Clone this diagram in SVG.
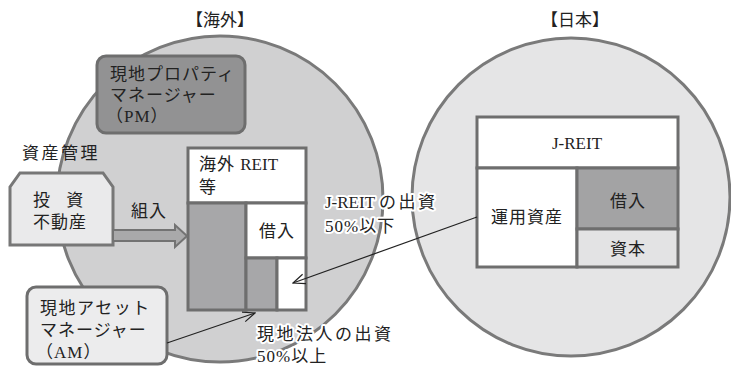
<svg xmlns="http://www.w3.org/2000/svg" width="731" height="370" viewBox="0 0 731 370">
<defs>
<style>
text{font-family:"Liberation Serif","Noto Sans CJK JP",serif;font-size:17px;fill:#222;letter-spacing:1px}
.c{text-anchor:middle}
.w{letter-spacing:2.5px}
.n{letter-spacing:0}
.box{stroke:#6e6e6e;stroke-width:3}
.halo{stroke:#fff;stroke-width:4;paint-order:stroke;stroke-linejoin:round}
.conn{stroke:#222;stroke-width:1.2;fill:none}
</style>
<marker id="open" markerWidth="14" markerHeight="12" refX="13" refY="6" orient="auto" markerUnits="userSpaceOnUse">
<path d="M1,1 L13,6 L1,11" fill="none" stroke="#222" stroke-width="1.2"/>
</marker>
</defs>
<rect width="731" height="370" fill="#fff"/>
<g id="overseas">
<circle cx="220" cy="199" r="163" fill="#d0d0d1" stroke="#7a7a7a" stroke-width="3"/>
<text class="c n" x="220" y="26">【海外】</text>
</g>
<g id="japan">
<circle cx="571" cy="197" r="159" fill="#e5e5e6" stroke="#7a7a7a" stroke-width="3"/>
<text class="c n" x="575" y="26">【日本】</text>
</g>
<g id="pm">
<rect x="97" y="56" width="148" height="77" rx="9" fill="#929293" stroke="#6e6e6e" stroke-width="3"/>
<text x="110" y="80">現地プロパティ</text>
<text x="110" y="101">マネージャー</text>
<text x="106" y="122">（PM）</text>
</g>
<g id="label-asset">
<text class="w" x="22" y="159">資産管理</text>
</g>
<g id="investment">
<path d="M20,173 L103,173 L113,187 L113,245 L10,245 L10,187 Z" fill="#eaeaeb" stroke="#777" stroke-width="3"/>
<text x="33" y="206" style="letter-spacing:6px">投 資</text>
<text x="33" y="228">不動産</text>
</g>
<g id="label-kumiire">
<text x="131" y="217">組入</text>
</g>
<g id="overseas-reit">
<rect class="box" x="188" y="148" width="118" height="55" fill="#fff"/>
<rect class="box" x="188" y="203" width="58" height="107" fill="#a7a7a9"/>
<rect class="box" x="246" y="203" width="60" height="55" fill="#fff"/>
<rect class="box" x="246" y="258" width="31" height="52" fill="#a7a7a9"/>
<rect class="box" x="277" y="258" width="29" height="52" fill="#fff"/>
<text x="199" y="170">海外 <tspan class="n">REIT</tspan></text>
<text x="199" y="193">等</text>
<text class="c" x="277" y="237">借入</text>
</g>
<g id="am">
<rect x="27" y="287" width="140" height="77" rx="9" fill="#ececed" stroke="#6e6e6e" stroke-width="3"/>
<text x="40" y="314" style="letter-spacing:1.5px">現地アセット</text>
<text x="40" y="336">マネージャー</text>
<text x="36" y="358">（AM）</text>
</g>
<g id="jreit">
<rect class="box" x="477" y="117" width="201" height="51" fill="#fff"/>
<rect class="box" x="477" y="168" width="100" height="99" fill="#fff"/>
<rect class="box" x="577" y="168" width="101" height="61" fill="#a3a3a4"/>
<rect class="box" x="577" y="229" width="101" height="38" fill="#e3e3e4"/>
<text class="c n" x="577" y="149">J-REIT</text>
<text class="c" x="527" y="223">運用資産</text>
<text class="c" x="628" y="207">借入</text>
<text class="c" x="628" y="255">資本</text>
</g>
<g id="connectors">
<path d="M113,230 L175,230 L175,225 L187,236 L175,247 L175,241 L113,241 Z" fill="#a9a9aa" stroke="#737373" stroke-width="2" stroke-linejoin="miter"/>
<line class="conn" x1="477" y1="217" x2="293" y2="283" marker-end="url(#open)"/>
<line class="conn" x1="167" y1="343" x2="255" y2="313" marker-end="url(#open)"/>
</g>
<g id="labels">
<text class="halo n" x="325" y="208">J-REIT <tspan class="w">の出資</tspan></text>
<text class="halo" x="325" y="232">50%以下</text>
<text class="halo w" x="257" y="340">現地法人の出資</text>
<text class="halo" x="257" y="362">50%以上</text>
</g>
</svg>
